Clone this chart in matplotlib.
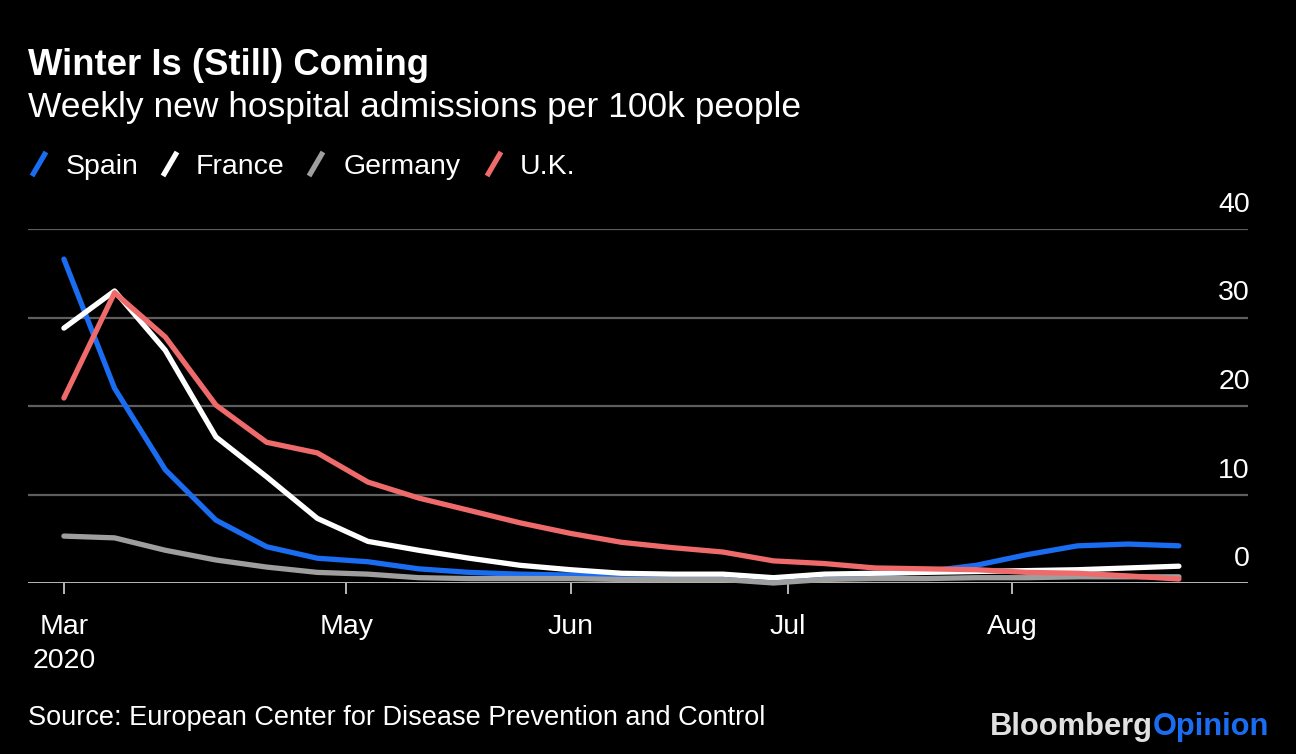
import numpy as np
import matplotlib
matplotlib.use("Agg")
import matplotlib.pyplot as plt
import matplotlib.transforms as mtransforms
from matplotlib.lines import Line2D

plt.rcParams['font.family'] = ['Liberation Sans', 'DejaVu Sans']

# ---- data -------------------------------------------------------------
weeks = np.arange(np.datetime64('2020-03-23'), np.datetime64('2020-08-25'),
                  np.timedelta64(7, 'D'))

spain = [36.6, 22.0, 12.8, 7.1, 4.1, 2.8, 2.4, 1.6, 1.2, 1.0, 0.9, 0.9,
         0.9, 0.9, 0.4, 0.9, 1.0, 1.3, 2.0, 3.2, 4.2, 4.4, 4.2]
france = [28.8, 33.0, 26.3, 16.5, 12.0, 7.3, 4.7, 3.7, 2.8, 2.0, 1.5, 1.1,
          1.0, 1.0, 0.6, 1.0, 1.1, 1.2, 1.3, 1.4, 1.5, 1.7, 1.9]
germany = [5.3, 5.1, 3.7, 2.6, 1.8, 1.2, 1.0, 0.6, 0.5, 0.5, 0.5, 0.4,
           0.4, 0.4, 0.0, 0.4, 0.5, 0.5, 0.6, 0.6, 0.7, 0.7, 0.7]
uk = [20.9, 32.8, 27.8, 20.1, 15.9, 14.7, 11.4, 9.6, 8.2, 6.8, 5.6, 4.6,
      4.0, 3.5, 2.5, 2.2, 1.7, 1.6, 1.5, 1.2, 1.1, 0.8, 0.45]

series_names = ['Spain', 'France', 'Germany', 'U.K.']
series_values = [spain, france, germany, uk]
series_colors = ['#1a6cf0', '#ffffff', '#9e9e9e', '#ef6b6b']

tick_dates = np.array(['2020-03-23', '2020-05-01', '2020-06-01',
                       '2020-07-01', '2020-08-01'], dtype='datetime64[D]')
tick_labels = ['Mar\n2020', 'May', 'Jun', 'Jul', 'Aug']
y_ticks = [0, 10, 20, 30, 40]

title = 'Winter Is (Still) Coming'
subtitle = 'Weekly new hospital admissions per 100k people'
source = 'Source: European Center for Disease Prevention and Control'

# ---- figure -----------------------------------------------------------
W, H = 1296, 754
fig = plt.figure(figsize=(W / 100, H / 100), dpi=100, facecolor='black')
ax = fig.add_axes([28 / W, 1 - 583 / H, 1220 / W, (583 - 229) / H])
ax.set_facecolor('black')

for y in y_ticks[1:]:
    ax.axhline(y, color='#5e5e5e', lw=1.6, zorder=1)
ax.axhline(0, color='#b8b8b8', lw=1.4, zorder=2)

for name, vals, col in zip(series_names, series_values, series_colors):
    ax.plot(weeks, vals, color=col, lw=3.8, solid_joinstyle='round',
            solid_capstyle='round', clip_on=False, zorder=3)

ax.set_ylim(0, 40)
ax.set_xlim(weeks[0] - np.timedelta64(119, 'h'),
            weeks[-1] + np.timedelta64(229, 'h'))
for s in ax.spines.values():
    s.set_visible(False)
ax.set_yticks([])
ax.set_xticks(tick_dates)
ax.set_xticklabels(tick_labels, fontsize=20.5, color='white', linespacing=1.4)
ax.tick_params(axis='x', length=8, width=1.4, color='#b8b8b8', pad=14)

ylab_trans = mtransforms.offset_copy(ax.get_yaxis_transform(), fig=fig,
                                     x=2, y=17, units='dots')
for v in y_ticks:
    ax.text(1.0, v, str(v), transform=ylab_trans, ha='right', va='baseline',
            fontsize=20.5, color='white')

# ---- titles -----------------------------------------------------------
fig.text(28 / W, 1 - 75 / H, title, fontsize=26.3, fontweight='bold',
         color='white', va='baseline')
fig.text(28 / W, 1 - 117 / H, subtitle, fontsize=25.5, color='white',
         va='baseline')

# ---- legend -----------------------------------------------------------
icon_x = [39, 170, 316, 494]
text_x = [66, 196, 344, 520]
for name, col, ix, tx in zip(series_names, series_colors, icon_x, text_x):
    fig.add_artist(Line2D([(ix - 7) / W, (ix + 7) / W],
                          [1 - 176 / H, 1 - 152 / H], color=col, lw=3.8,
                          solid_capstyle='butt', transform=fig.transFigure))
    fig.text(tx / W, 1 - 174 / H, name, fontsize=20.5, color='white',
             va='baseline')

# ---- footer -----------------------------------------------------------
fig.text(28 / W, 1 - 725 / H, source, fontsize=19.5, color='white',
         va='baseline')
bl = fig.text(990 / W, 1 - 742 / H, 'Bloomberg', fontsize=22.2,
              fontweight='bold', color='#e0e0e0', va='bottom')
ax.annotate('Opinion', xy=(1, 0), xycoords=bl, va='bottom', ha='left',
            fontsize=22.2, fontweight='bold', color='#1a6cf0',
            annotation_clip=False)

fig.savefig('out.png', dpi=100, facecolor='black')
